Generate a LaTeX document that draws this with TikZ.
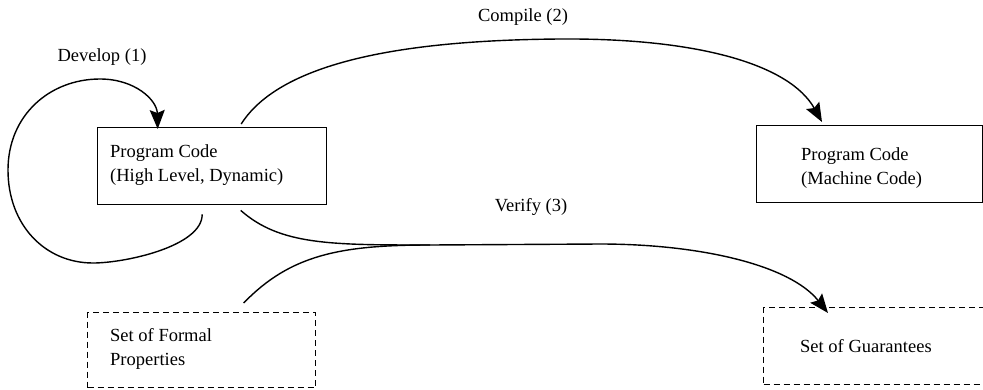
\documentclass[tikz,border=0pt]{standalone}
\usepackage{fontspec}
\setmainfont{Liberation Serif}
\usetikzlibrary{arrows.meta}
\begin{document}
\begin{tikzpicture}[x=1pt,y=-1pt,
  font=\fontsize{18.5pt}{24pt}\selectfont,
  box/.style={draw, line width=1.4pt, rectangle, inner sep=0pt, anchor=north west},
  dashbox/.style={box, dash pattern=on 6pt off 4pt},
  txt/.style={anchor=west, align=left, inner sep=0pt},
  lbl/.style={inner sep=0pt},
  flow/.style={line width=1.4pt, -{Stealth[length=19pt,width=15pt,inset=3pt]}},
  plain/.style={line width=1.4pt}]
\useasboundingbox (0,0) rectangle (983,389);
\clip (0,0) rectangle (983,389);

% boxes
\node[box, minimum width=229pt, minimum height=77pt] (src) at (97,127) {};
\node[box, minimum width=226pt, minimum height=77pt] (mc) at (756,125) {};
\node[dashbox, minimum width=228pt, minimum height=75pt] (props) at (87,312) {};
\node[dashbox, minimum width=222pt, minimum height=77pt] (guar) at (763,307) {};

% box texts
\node[txt] (srct) at (110,165) {Program Code\\(High Level, Dynamic)};
\node[txt] (mct) at (801,168.5) {Program Code\\(Machine Code)};
\node[txt] (propst) at (110,349) {Set of Formal\\Properties};
\node[txt] (guart) at (800,346.5) {Set of Guarantees};

% edge labels
\node[lbl] (ldev) at (102,57) {Develop (1)};
\node[lbl] (lcomp) at (523,17) {Compile (2)};
\node[lbl] (lver) at (531,207) {Verify (3)};

% develop loop
\draw[flow] ([xshift=-10pt,yshift=-9pt]src.south)
  .. controls +(0,32) and (125,263) .. (93,263)
  .. controls (45,263) and (8,225) .. (8,170)
  .. controls (8,115) and (50,79) .. (100,79)
  .. controls (135,79) and (157,100) .. ([xshift=-54.5pt,yshift=-2pt]src.north);

% compile
\draw[flow] ([xshift=29pt,yshift=3pt]src.north)
  .. controls (285,55) and (430,40) .. (560,39)
  .. controls (700,38) and (790,65) .. ([xshift=66pt,yshift=3pt]mc.north west);

% verify
\coordinate (merge) at (430,245);
\draw[flow] ([xshift=28.5pt,yshift=-5pt]src.south)
  .. controls (280,245) and (330,245) .. (merge)
  -- (600,244) .. controls (700,244) and (790,265) .. ([xshift=65pt,yshift=-6pt]guar.north west);
\draw[plain] ([xshift=42pt,yshift=9pt]props.north)
  .. controls (290,255) and (340,245) .. (merge);
\end{tikzpicture}
\end{document}
